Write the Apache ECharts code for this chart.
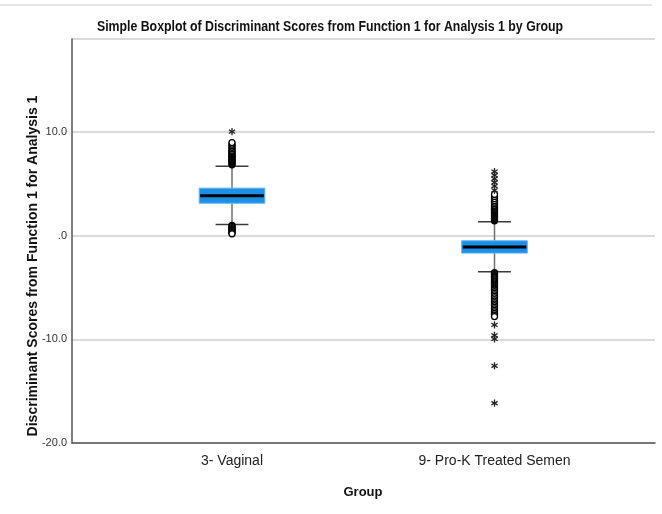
<!DOCTYPE html>
<html>
<head>
<meta charset="utf-8">
<script src="https://cdn.jsdelivr.net/npm/echarts@6/dist/echarts.min.js"></script>
<style>
html,body{margin:0;padding:0;background:#fff;}
#chart{width:662px;height:514px;}
</style>
</head>
<body>
<div id="chart"></div>
<script>
// ---- data ----
const categories = ['3- Vaginal', '9- Pro-K Treated Semen'];
const lowerWhisker = [1.10, -3.47];
const q1 = [3.15, -1.67];
const median = [3.86, -1.09];
const q3 = [4.60, -0.48];
const upperWhisker = [6.72, 1.35];

// outliers (circles) per group
const vaginalOutliers = [6.85, 6.95, 7.05, 7.15, 7.25, 7.35, 7.45, 7.55, 7.65, 7.75, 7.85, 7.95, 8.05, 8.15, 8.25, 8.4, 8.55, 8.7, 8.85, 9.0,
  1.0, 0.9, 0.8, 0.7, 0.6, 0.5, 0.4, 0.3, 0.2];
const semenOutliers = [1.45, 1.55, 1.65, 1.75, 1.85, 1.95, 2.05, 2.15, 2.25, 2.35, 2.45, 2.55, 2.65, 2.75, 2.85, 2.95, 3.1, 3.25, 3.4, 3.6, 3.8, 4.0,
  -3.55, -3.65, -3.75, -3.85, -3.95, -4.05, -4.15, -4.25, -4.35, -4.45, -4.55, -4.65, -4.75, -4.85, -4.95, -5.05, -5.15, -5.25,
  -5.4, -5.55, -5.7, -5.85, -6.0, -6.15, -6.3, -6.45, -6.6, -6.75, -6.9, -7.05, -7.2, -7.35, -7.5, -7.65, -7.8];
// extreme values (stars) per group
const vaginalExtremes = [10.05];
const semenExtremes = [6.2, 5.85, 5.5, 5.15, 4.8, 4.4, -8.6, -9.6, -9.95, -12.55, -16.15];

// y axis ticks
const yMin = -20, yMax = 19, yInterval = 10;

// ---- build ----
const boxData = categories.map((c, i) => [i, lowerWhisker[i], q1[i], median[i], q3[i], upperWhisker[i]]);
const circleData = vaginalOutliers.map(v => [0, v]).concat(semenOutliers.map(v => [1, v]));
const starData = vaginalExtremes.map(v => [0, v]).concat(semenExtremes.map(v => [1, v]));

const chart = echarts.init(document.getElementById('chart'), null, {renderer: 'canvas'});

const sans = "'Liberation Sans', Arial, sans-serif";

const option = {
  animation: false,
  backgroundColor: '#ffffff',
  graphic: [
    {type: 'line', shape: {x1: 0, y1: 5, x2: 652, y2: 5}, style: {stroke: '#e6e6e6', lineWidth: 2}},
    {type: 'text', x: 330, y: 27, scaleX: 0.88,
     style: {text: 'Simple Boxplot of Discriminant Scores from Function 1 for Analysis 1 by Group', fontFamily: sans,
       fontWeight: 'bold', fontSize: 14, fill: '#111', align: 'center', verticalAlign: 'middle'}},
    {type: 'text', x: 33, y: 266, rotation: Math.PI / 2,
     style: {text: 'Discriminant Scores from Function 1 for Analysis 1', fontFamily: sans, fontWeight: 'bold', fontSize: 14,
       fill: '#111', align: 'center', verticalAlign: 'middle'}},
    {type: 'text', x: 363, y: 492,
     style: {text: 'Group', fontFamily: sans, fontWeight: 'bold', fontSize: 13, fill: '#111', align: 'center', verticalAlign: 'middle'}}
  ],
  grid: [
    {left: 72, right: 7, top: 39, bottom: 71},
    {left: 100.75, right: 36.25, top: 39, bottom: 71}
  ],
  xAxis: [
    {type: 'value', gridIndex: 0, min: 0, max: 1,
     axisLine: {show: true, onZero: false, lineStyle: {color: '#555', width: 1.5}},
     axisTick: {show: false}, axisLabel: {show: false}, splitLine: {show: false}},
    {type: 'category', gridIndex: 1, data: categories,
     axisLine: {show: false}, axisTick: {show: false},
     axisLabel: {fontFamily: sans, fontSize: 14, color: '#222', margin: 11},
     splitLine: {show: false}}
  ],
  yAxis: [
    {type: 'value', gridIndex: 0, min: yMin, max: yMax, interval: yInterval,
     axisLine: {show: true, lineStyle: {color: '#555', width: 1.5}},
     axisTick: {show: false},
     axisLabel: {fontFamily: sans, fontSize: 11, color: '#333', margin: 5,
       formatter: v => v === 0 ? '.0' : v.toFixed(1), showMaxLabel: false},
     splitLine: {show: true, lineStyle: {color: '#cfcfcf', width: 1.5}}},
    {type: 'value', gridIndex: 1, min: yMin, max: yMax, interval: yInterval, show: false}
  ],
  series: [
    {
      type: 'custom', xAxisIndex: 1, yAxisIndex: 1, z: 3,
      data: boxData,
      renderItem: function (params, api) {
        const x = api.value(0);
        const band = api.size([1, 0])[0];
        const bw = band * 0.25, cw = band * 0.125;
        const cx = api.coord([x, 0])[0];
        const yLW = api.coord([x, api.value(1)])[1];
        const yQ1 = api.coord([x, api.value(2)])[1];
        const yMed = api.coord([x, api.value(3)])[1];
        const yQ3 = api.coord([x, api.value(4)])[1];
        const yUW = api.coord([x, api.value(5)])[1];
        const wStyle = {stroke: '#6e6e6e', lineWidth: 1.5};
        const cStyle = {stroke: '#3a3a3a', lineWidth: 1.5};
        return {
          type: 'group',
          children: [
            {type: 'line', shape: {x1: cx, y1: yUW, x2: cx, y2: yQ3}, style: wStyle},
            {type: 'line', shape: {x1: cx, y1: yQ1, x2: cx, y2: yLW}, style: wStyle},
            {type: 'line', shape: {x1: cx - cw / 2, y1: yUW, x2: cx + cw / 2, y2: yUW}, style: cStyle},
            {type: 'line', shape: {x1: cx - cw / 2, y1: yLW, x2: cx + cw / 2, y2: yLW}, style: cStyle},
            {type: 'rect', shape: {x: cx - bw / 2, y: yQ3, width: bw, height: yQ1 - yQ3},
             style: {fill: '#1b8fe6', stroke: '#62b3ef', lineWidth: 1}},
            {type: 'line', shape: {x1: cx - bw / 2 + 1, y1: yMed, x2: cx + bw / 2 - 1, y2: yMed},
             style: {stroke: '#000', lineWidth: 3}}
          ]
        };
      }
    },
    {
      type: 'scatter', xAxisIndex: 1, yAxisIndex: 1, z: 4,
      data: circleData,
      symbol: 'circle', symbolSize: 6,
      itemStyle: {color: '#ffffff', borderColor: '#000', borderWidth: 1.3, opacity: 1}
    },
    {
      type: 'custom', xAxisIndex: 1, yAxisIndex: 1, z: 5,
      data: starData,
      renderItem: function (params, api) {
        const p = api.coord([api.value(0), api.value(1)]);
        const r = 3.6;
        const st = {stroke: '#222', lineWidth: 1.3};
        const a = Math.PI / 6;
        return {
          type: 'group',
          children: [
            {type: 'line', shape: {x1: p[0], y1: p[1] - r, x2: p[0], y2: p[1] + r}, style: st},
            {type: 'line', shape: {x1: p[0] - r * Math.cos(a), y1: p[1] - r * Math.sin(a), x2: p[0] + r * Math.cos(a), y2: p[1] + r * Math.sin(a)}, style: st},
            {type: 'line', shape: {x1: p[0] - r * Math.cos(a), y1: p[1] + r * Math.sin(a), x2: p[0] + r * Math.cos(a), y2: p[1] - r * Math.sin(a)}, style: st}
          ]
        };
      }
    }
  ]
};
chart.setOption(option);
</script>
</body>
</html>
